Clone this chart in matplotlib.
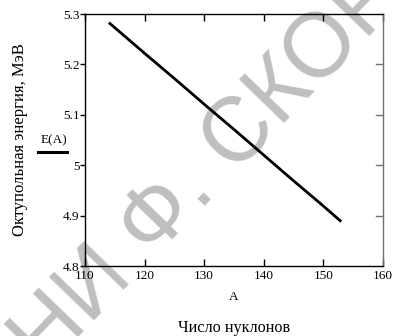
import matplotlib
matplotlib.use("Agg")
import matplotlib.pyplot as plt

# число нуклонов и октупольная энергия (МэВ)
A = [114, 120, 125, 130, 135, 140, 145, 150, 153]
E = [5.283, 5.222, 5.172, 5.121, 5.071, 5.020, 4.969, 4.919, 4.888]

x_ticks = [110, 120, 130, 140, 150, 160]
y_ticks = [4.8, 4.9, 5.0, 5.1, 5.2, 5.3]
y_tick_labels = ["4.8", "4.9", "5", "5.1", "5.2", "5.3"]

plt.rcParams['font.family'] = ['Liberation Serif', 'DejaVu Serif']

fig = plt.figure(figsize=(3.95, 3.36), dpi=100)
ax = fig.add_axes([0.2152, 0.2083, 0.7544, 0.75])

ax.plot(A, E, color='k', lw=2.0, solid_capstyle='butt', zorder=3)

ax.set_xlim(110, 160)
ax.set_ylim(4.8, 5.3)
ax.set_xticks(x_ticks)
ax.set_yticks(y_ticks)
ax.set_yticklabels(y_tick_labels)

ax.tick_params(axis='x', direction='in', length=5, width=1, top=True, labelsize=9.5, pad=3)
ax.tick_params(axis='y', direction='out', length=3.5, width=1, labelsize=9.5, pad=0.5)
# правые риски внутрь, как в исходнике
for y in y_ticks[1:-1]:
    ax.plot([158.8, 160], [y, y], color='#707070', lw=1, clip_on=False, zorder=3)

for s in ax.spines.values():
    s.set_linewidth(1.0)
ax.spines['right'].set_color('#707070')

ax.set_xlabel('A', fontsize=9.5, labelpad=6)
fig.text(0.592, 0.025, 'Число нуклонов', fontsize=11.7, ha='center', va='center')
fig.text(0.05, 0.583, 'Октупольная энергия, МэВ', fontsize=12, rotation=90,
         ha='center', va='center')

# легенда слева от оси
fig.text(0.137, 0.583, 'E(A)', fontsize=9.5, ha='center', va='center')
fig.add_artist(plt.Line2D([0.096, 0.17], [0.548, 0.548], color='k', lw=2.2,
                          transform=fig.transFigure))

# водяной знак
ax.text(0.1127, -0.107, 'НИ Ф. СКОРИНЫ', transform=fig.transFigure,
        fontsize=65, family='Liberation Sans', color='#bfbfbf',
        rotation=46, rotation_mode='anchor', ha='left', va='baseline',
        zorder=0.5, clip_on=False)

fig.savefig('out.png', dpi=100)
